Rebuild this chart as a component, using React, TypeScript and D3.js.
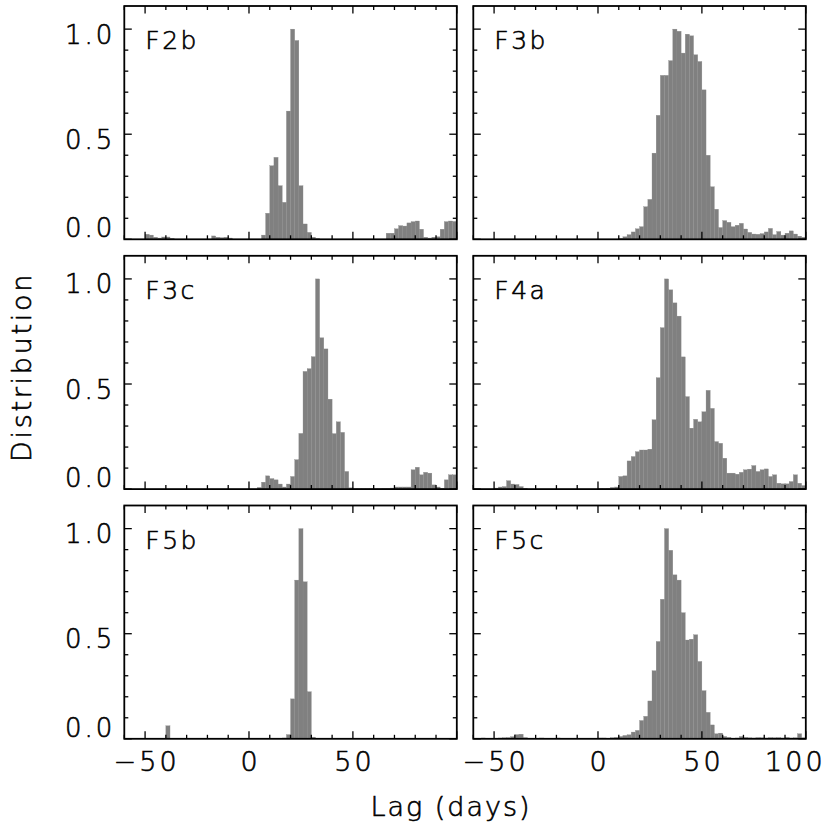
import React from "react";
import * as d3 from "d3";

// Histogram bins: start -60 days, width 2 days, 80 bins
const binStart = -60;
const binWidth = 2;

const panelNames = ["F2b", "F3b", "F3c", "F4a", "F5b", "F5c"];

const F2b = [
  0, 0, 0, 0, 0, 0.024, 0.02, 0.01, 0.006, 0.011,
  0.011, 0.005, 0, 0, 0, 0, 0, 0, 0, 0,
  0, 0.016, 0.01, 0.008, 0.01, 0.006, 0, 0, 0, 0,
  0, 0, 0, 0.02, 0.124, 0.35, 0.39, 0.255, 0.176, 0.61,
  1.0, 0.946, 0.255, 0.073, 0.033, 0.01, 0.004, 0, 0, 0,
  0, 0, 0, 0, 0, 0, 0, 0, 0, 0,
  0, 0, 0, 0.029, 0.029, 0.05, 0.065, 0.063, 0.078, 0.084,
  0.087, 0.048, 0.01, 0.006, 0.01, 0.012, 0.048, 0.084, 0.087, 0.085,
];

const F3b = [
  0, 0, 0, 0, 0, 0, 0, 0, 0, 0,
  0, 0, 0, 0, 0, 0, 0, 0, 0, 0,
  0, 0, 0, 0, 0, 0, 0, 0, 0, 0,
  0, 0, 0, 0, 0, 0.005, 0.012, 0.022, 0.035, 0.05,
  0.06, 0.155, 0.19, 0.41, 0.59, 0.78, 0.78, 0.85, 1.0, 0.99,
  0.886, 0.976, 0.968, 0.878, 0.846, 0.711, 0.4, 0.25, 0.143, 0.056,
  0.089, 0.081, 0.06, 0.067, 0.076, 0.049, 0.033, 0.025, 0.024, 0.027,
  0.035, 0.052, 0.022, 0.037, 0.02, 0.029, 0.04, 0.025, 0.015, 0.01,
];

const F3c = [
  0, 0, 0, 0, 0, 0, 0, 0, 0, 0,
  0, 0, 0, 0, 0, 0, 0, 0, 0, 0,
  0, 0, 0, 0, 0, 0, 0, 0, 0, 0,
  0, 0, 0.008, 0.033, 0.063, 0.05, 0.044, 0.024, 0.01, 0.024,
  0.06, 0.14, 0.265, 0.56, 0.573, 0.63, 1.0, 0.72, 0.667, 0.428,
  0.264, 0.32, 0.27, 0.084, 0.006, 0.003, 0.003, 0.003, 0.003, 0.003,
  0.003, 0.003, 0.004, 0.004, 0.005, 0.01, 0.01, 0.01, 0.01, 0.092,
  0.104, 0.068, 0.08, 0.076, 0.02, 0.01, 0.004, 0.044, 0.068, 0.068,
];

const F4a = [
  0, 0, 0, 0, 0, 0.005, 0.01, 0.012, 0.04, 0.024,
  0.022, 0.012, 0.004, 0, 0, 0, 0, 0, 0, 0,
  0, 0, 0, 0, 0, 0, 0, 0, 0, 0,
  0.003, 0.003, 0.004, 0.008, 0.01, 0.06, 0.063, 0.134, 0.155, 0.178,
  0.186, 0.186, 0.19, 0.33, 0.53, 0.768, 1.0, 0.948, 0.886, 0.823,
  0.629, 0.44, 0.29, 0.332, 0.32, 0.368, 0.47, 0.384, 0.226, 0.218,
  0.147, 0.076, 0.076, 0.071, 0.08, 0.092, 0.095, 0.112, 0.084, 0.092,
  0.096, 0.06, 0.068, 0.028, 0.025, 0.025, 0.036, 0.068, 0.028, 0.017,
];

const F5b = [
  0, 0, 0, 0, 0, 0, 0, 0, 0, 0.003,
  0.062, 0, 0, 0, 0, 0, 0, 0, 0, 0,
  0, 0, 0, 0, 0, 0, 0, 0, 0, 0,
  0, 0, 0, 0, 0, 0, 0, 0, 0.004, 0.02,
  0.19, 0.755, 1.0, 0.747, 0.224, 0.008, 0, 0, 0, 0,
  0, 0, 0, 0, 0, 0, 0, 0, 0, 0,
  0, 0, 0, 0, 0, 0, 0, 0, 0, 0,
  0, 0, 0, 0, 0, 0, 0, 0, 0, 0,
];

const F5c = [
  0.003, 0.002, 0.004, 0.003, 0.002, 0.003, 0.004, 0.005, 0.006, 0.01,
  0.02, 0.022, 0.006, 0.003, 0.002, 0.003, 0.004, 0.003, 0.002, 0.003,
  0.004, 0.003, 0.002, 0.003, 0.002, 0.003, 0.002, 0.003, 0.002, 0.003,
  0.004, 0.004, 0.003, 0.005, 0.007, 0.011, 0.016, 0.019, 0.032, 0.04,
  0.087, 0.107, 0.18, 0.324, 0.463, 0.664, 1.0, 0.897, 0.78, 0.755,
  0.6, 0.47, 0.474, 0.495, 0.368, 0.229, 0.126, 0.066, 0.024, 0.027,
  0.011, 0.007, 0.003, 0.004, 0.011, 0.007, 0.005, 0.004, 0.006, 0.005,
  0.004, 0.006, 0.005, 0.006, 0.004, 0.007, 0.004, 0.005, 0.024, 0.005,
];

const panelData = [F2b, F3b, F3c, F4a, F5b, F5c];

const xMajorTicks = [-50, 0, 50, 100];
const xTickLabelsLeft = ["\u221250", "0", "50"];
const xTickLabelsRight = ["\u221250", "0", "50", "100"];
const yMajorTicks = [0, 0.5, 1.0];
const yTickLabels = ["0.0", "0.5", "1.0"];

const xTitle = "Lag (days)";
const yTitle = "Distribution";

const FONT = "'DejaVu Sans', sans-serif";
const WEIGHT = 200;
const TEXT_STROKE = 0.6;

export default function App() {
  const W = 332.5;
  const H = 233.3;
  const colX = [124.3, 473.3];
  const rowY = [6, 255.8, 505.5];

  const x = d3.scaleLinear().domain([-60, 100]).range([0, W]);
  const y = d3.scaleLinear().domain([0, 1.11]).range([H, 0]);

  const xMinor = d3.range(-60, 101, 10).filter((t) => t % 50 !== 0);
  const yMinor = d3.range(0, 11).map((k) => k / 10).filter((t) => Math.abs(t * 2 - Math.round(t * 2)) > 1e-6);

  const majorLen = 7.5;
  const minorLen = 4;

  const textProps = {
    fontFamily: FONT,
    fontWeight: WEIGHT,
    fill: "#000",
    stroke: "#000",
    strokeWidth: TEXT_STROKE,
  };

  return (
    <svg width={830} height={830} style={{ display: "block", position: "absolute", left: 0, top: 0, background: "#fff" }}>
      <rect x={0} y={0} width={830} height={830} fill="#fff" />
      {panelData.map((data, p) => {
        const col = p % 2;
        const row = Math.floor(p / 2);
        const ox = colX[col];
        const oy = rowY[row];
        const bw = x(binStart + binWidth) - x(binStart);
        return (
          <g key={p} transform={`translate(${ox},${oy})`}>
            {data.map((v, i) =>
              v > 0 ? (
                <rect
                  key={i}
                  x={x(binStart + i * binWidth)}
                  y={y(v)}
                  width={bw}
                  height={y(0) - y(v)}
                  fill="#808080"
                  stroke="#888888"
                  strokeWidth={0.3}
                />
              ) : null
            )}
            {xMinor.map((t) => (
              <g key={"xm" + t}>
                <line x1={x(t)} x2={x(t)} y1={H} y2={H - minorLen} stroke="#000" strokeWidth={1.3} />
                <line x1={x(t)} x2={x(t)} y1={0} y2={minorLen} stroke="#000" strokeWidth={1.3} />
              </g>
            ))}
            {xMajorTicks.map((t) => (
              <g key={"xM" + t}>
                <line x1={x(t)} x2={x(t)} y1={H} y2={H - majorLen} stroke="#000" strokeWidth={1.3} />
                <line x1={x(t)} x2={x(t)} y1={0} y2={majorLen} stroke="#000" strokeWidth={1.3} />
              </g>
            ))}
            {yMinor.map((t) => (
              <g key={"ym" + t}>
                <line x1={0} x2={minorLen} y1={y(t)} y2={y(t)} stroke="#000" strokeWidth={1.3} />
                <line x1={W} x2={W - minorLen} y1={y(t)} y2={y(t)} stroke="#000" strokeWidth={1.3} />
              </g>
            ))}
            {yMajorTicks.map((t) => (
              <g key={"yM" + t}>
                <line x1={0} x2={majorLen} y1={y(t)} y2={y(t)} stroke="#000" strokeWidth={1.3} />
                <line x1={W} x2={W - majorLen} y1={y(t)} y2={y(t)} stroke="#000" strokeWidth={1.3} />
              </g>
            ))}
            <rect x={0} y={0} width={W} height={H} fill="none" stroke="#000" strokeWidth={1.8} />
            <text x={21} y={43} fontSize={25} letterSpacing={2.5} {...textProps}>
              {panelNames[p]}
            </text>
            {col === 0 &&
              yMajorTicks.map((t, k) => (
                <text
                  key={"yl" + t}
                  x={-12 + 3}
                  y={t === 0 ? y(t) - 2 : y(t) + 14.5}
                  textAnchor="end"
                  fontSize={26}
                  letterSpacing={3}
                  {...textProps}
                >
                  {yTickLabels[k]}
                </text>
              ))}
            {row === 2 &&
              (col === 0 ? xTickLabelsLeft : xTickLabelsRight).map((lab, k) => (
                <text
                  key={"xl" + k}
                  x={Math.min(x(xMajorTicks[k]), W - 12) + 1.5}
                  y={H + 32}
                  textAnchor="middle"
                  fontSize={27}
                  letterSpacing={3}
                  {...textProps}
                >
                  {lab}
                </text>
              ))}
          </g>
        );
      })}
      <text x={451} y={816} textAnchor="middle" fontSize={27} letterSpacing={2} {...textProps}>
        {xTitle}
      </text>
      <text
        transform={`translate(31,367) rotate(-90)`}
        textAnchor="middle"
        fontSize={27}
        letterSpacing={2.7}
        {...textProps}
      >
        {yTitle}
      </text>
    </svg>
  );
}
